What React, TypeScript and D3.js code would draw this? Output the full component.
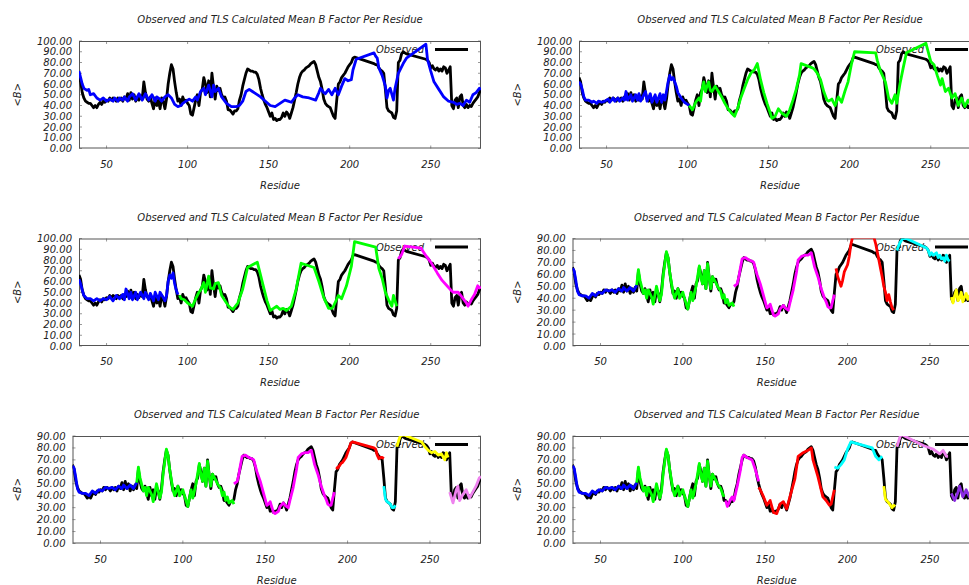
import React, { useEffect, useRef } from "react";
import * as d3 from "d3";

const W = 969;
const H = 585;
const TITLE = "Observed and TLS Calculated Mean B Factor Per Residue";
const xTicks = [50, 100, 150, 200, 250];
const residueRange: [number, number] = [33, 281];

// observed mean B per residue, [residue, B]; gaps 204-214 and 236-246 are unmodelled
const observed: [number, number][] = [
  [33, 66], [34, 62], [35, 52], [36, 47], [37, 44], [38, 43], [39, 42], [40, 42], [41, 40], [42, 38],
  [43, 40], [44, 38], [45, 41], [46, 43], [47, 41], [48, 44], [49, 43], [50, 45], [51, 44], [52, 47],
  [53, 45], [54, 47], [55, 46], [56, 44], [57, 47], [58, 45], [59, 47], [60, 44], [61, 48], [62, 46],
  [63, 51], [64, 45], [65, 52], [66, 46], [67, 50], [68, 44], [69, 48], [70, 45], [71, 49], [72, 46],
  [73, 62], [74, 52], [75, 46], [76, 44], [77, 48], [78, 42], [79, 37], [80, 47], [81, 40], [82, 45],
  [83, 37], [84, 47], [85, 44], [86, 37], [87, 46], [88, 60], [89, 70], [90, 78], [91, 74], [92, 62],
  [93, 52], [94, 44], [95, 46], [96, 40], [97, 48], [98, 44], [99, 45], [100, 42], [101, 40], [102, 32],
  [103, 31], [104, 38], [105, 45], [106, 50], [107, 40], [108, 52], [109, 55], [110, 66], [111, 60], [112, 52],
  [113, 63], [114, 48], [115, 70], [116, 57], [117, 46], [118, 58], [119, 54], [120, 56], [121, 50], [122, 47],
  [123, 48], [124, 44], [125, 36], [126, 36], [127, 34], [128, 32], [129, 35], [130, 35], [131, 37], [132, 45],
  [133, 50], [134, 58], [135, 64], [136, 70], [137, 74], [138, 73], [139, 72], [140, 72], [141, 71], [142, 71],
  [143, 69], [144, 64], [145, 56], [146, 50], [147, 45], [148, 41], [149, 38], [150, 34], [151, 30], [152, 33],
  [153, 27], [154, 28], [155, 26], [156, 27], [157, 27], [158, 29], [159, 33], [160, 30], [161, 34], [162, 32],
  [163, 28], [164, 33], [165, 38], [166, 45], [167, 52], [168, 60], [169, 66], [170, 70], [171, 72], [172, 73],
  [173, 75], [174, 76], [175, 77], [176, 79], [177, 80], [178, 81], [179, 78], [180, 72], [181, 66], [182, 62],
  [183, 55], [184, 46], [185, 42], [186, 40], [187, 39], [188, 38], [189, 34], [190, 30], [191, 28], [192, 45],
  [193, 60], [194, 62], [195, 66], [196, 68], [197, 70], [198, 73], [199, 76], [200, 78], [201, 80], [202, 84],
  [203, 85], [215, 79], [216, 78], [217, 78], [218, 75], [219, 73], [220, 72], [221, 70], [222, 55], [223, 38],
  [224, 35], [225, 34], [226, 33], [227, 29], [228, 28], [229, 35], [230, 80], [231, 82], [232, 88], [233, 90],
  [234, 89], [235, 88], [247, 83], [248, 82], [249, 80], [250, 75], [251, 77], [252, 74], [253, 73], [254, 75],
  [255, 72], [256, 74], [257, 72], [258, 76], [259, 75], [260, 70], [261, 73], [262, 76], [263, 40], [264, 37],
  [265, 45], [266, 47], [267, 38], [268, 48], [269, 50], [270, 40], [271, 38], [272, 41], [273, 38], [274, 40],
  [275, 39], [276, 42], [277, 44], [278, 46], [279, 48], [280, 52], [281, 55],
];

// panel 1: one TLS group
const fit1Blue: [number, number][] = [
  [33, 72], [34, 66], [35, 60], [36, 56], [38, 54], [39, 55], [40, 50], [42, 51], [44, 47], [46, 45],
  [48, 47], [50, 44], [52, 46], [54, 44], [55, 47], [57, 44], [58, 47], [60, 45], [61, 48], [63, 44],
  [64, 48], [66, 51], [68, 45], [70, 51], [72, 45], [74, 51], [76, 45], [78, 50], [80, 44], [81, 48],
  [83, 46], [84, 44], [86, 48], [88, 50], [90, 47], [92, 41], [94, 39], [96, 40], [97, 42], [99, 44],
  [101, 46], [103, 44], [105, 48], [106, 45], [108, 53], [110, 56], [111, 50], [113, 59], [115, 48], [116, 59],
  [117, 53], [119, 56], [121, 48], [124, 42], [127, 39], [130, 39], [132, 40], [134, 44], [136, 53], [138, 55],
  [140, 53], [142, 51], [145, 48], [148, 44], [151, 40], [154, 39], [157, 42], [160, 45], [162, 44], [164, 43],
  [166, 47], [168, 50], [171, 48], [175, 47], [179, 45], [181, 52], [182, 56], [184, 52], [185, 51], [187, 55],
  [189, 50], [191, 56], [193, 50], [195, 58], [197, 65], [199, 63], [201, 64], [202, 73], [204, 83], [215, 89],
  [216, 86], [217, 84], [218, 75], [220, 68], [222, 58], [223, 47], [224, 54], [225, 56], [227, 45], [228, 56],
  [230, 70], [231, 73], [233, 79], [235, 84], [247, 97], [248, 83], [250, 72], [252, 62], [255, 55], [258, 48],
  [261, 44], [264, 43], [266, 41], [268, 42], [270, 40], [272, 45], [274, 43], [276, 50], [278, 52], [280, 56],
  [281, 55],
];

// panel 2: two groups
const fit2Blue: [number, number][] = [
  [33, 62], [34, 60], [35, 55], [36, 48], [37, 45], [39, 45], [41, 43], [42, 44], [44, 42], [45, 44],
  [47, 43], [49, 44], [51, 46], [52, 43], [54, 47], [55, 44], [57, 47], [58, 44], [60, 47], [61, 45],
  [62, 53], [63, 45], [65, 50], [66, 44], [68, 50], [69, 45], [70, 51], [71, 44], [73, 50], [74, 53],
  [75, 44], [77, 51], [78, 43], [80, 50], [81, 43], [83, 51], [84, 43], [85, 50], [86, 45], [88, 62],
  [89, 68], [90, 64], [91, 66], [92, 62], [93, 58], [94, 52], [96, 47], [98, 43], [100, 41], [101, 40],
];
const fit2Green: [number, number][] = [
  [101, 40], [102, 38], [103, 36], [105, 43], [107, 47], [108, 44], [109, 56], [110, 62], [111, 53], [112, 58],
  [113, 62], [114, 54], [115, 53], [117, 58], [119, 53], [121, 48], [123, 42], [125, 37], [127, 33], [129, 30],
  [131, 38], [133, 48], [135, 56], [137, 64], [139, 70], [141, 73], [143, 79], [145, 64], [147, 52], [149, 42],
  [151, 33], [152, 28], [154, 30], [156, 37], [158, 33], [161, 30], [163, 36], [165, 45], [167, 55], [169, 68],
  [170, 79], [177, 75], [178, 74], [180, 70], [182, 64], [184, 53], [186, 45], [187, 44], [189, 46], [191, 40],
  [193, 48], [195, 43], [197, 53], [199, 62], [201, 78], [203, 90], [216, 89], [217, 82], [219, 72], [222, 62],
  [224, 47], [226, 42], [228, 50], [229, 42], [231, 60], [233, 75], [235, 89], [247, 98], [250, 81], [252, 78],
  [254, 68], [256, 59], [257, 65], [259, 53], [261, 56], [263, 47], [265, 51], [267, 40], [269, 47], [271, 39],
  [273, 45], [275, 40], [277, 45], [279, 39], [281, 42],
];

// panel 3: three groups
const fit3Blue: [number, number][] = [
  [33, 62], [34, 58], [35, 52], [36, 47], [38, 44], [40, 44], [42, 42], [44, 44], [46, 42], [48, 44],
  [50, 43], [52, 46], [54, 42], [56, 47], [58, 44], [60, 48], [61, 43], [62, 53], [64, 44], [65, 50],
  [66, 43], [68, 50], [69, 43], [71, 50], [73, 44], [74, 50], [76, 43], [77, 49], [79, 42], [80, 50],
  [82, 43], [83, 50], [85, 45], [86, 42], [87, 47], [88, 60], [89, 66], [90, 63], [91, 68], [92, 58],
  [93, 52], [94, 48],
];
const fit3Green: [number, number][] = [
  [95, 47], [96, 44], [98, 43], [100, 40], [102, 38], [103, 37], [105, 44], [107, 50], [108, 52], [110, 59],
  [111, 50], [113, 65], [114, 54], [116, 53], [117, 58], [119, 59], [121, 47], [124, 40], [126, 36], [128, 34],
  [131, 40], [134, 53], [137, 73], [143, 78], [146, 60], [149, 42], [151, 33], [153, 35], [155, 37], [157, 34],
  [159, 35], [161, 33], [164, 37], [167, 53], [170, 77], [178, 73], [181, 60], [184, 45], [187, 35], [189, 35],
  [190, 37], [193, 47], [195, 44], [198, 56], [201, 74], [203, 97], [216, 92], [218, 72], [220, 63], [222, 50],
  [224, 43], [226, 37], [227, 47], [229, 37],
];
const fit3Magenta: [number, number][] = [
  [230, 81], [232, 85], [234, 93], [244, 91], [247, 84], [250, 78], [254, 68], [257, 61], [260, 56], [263, 51],
  [264, 50], [267, 50], [270, 44], [272, 40], [273, 37], [275, 43], [277, 48], [279, 56], [280, 54], [281, 55],
];

// panels 4-6 share the first groups
const blueA: [number, number][] = [
  [33, 65], [34, 63], [35, 55], [36, 46], [37, 43], [39, 42], [41, 42], [43, 40], [45, 44], [47, 42],
  [49, 45], [51, 44], [53, 47], [55, 46], [57, 47], [59, 45], [61, 48], [63, 46], [64, 49], [66, 46],
  [68, 49], [70, 46], [72, 51],
];
const greenA: [number, number][] = [
  [72, 51], [73, 64], [74, 55], [76, 44], [77, 47], [78, 40], [79, 47], [81, 41], [82, 35], [84, 50],
  [86, 38], [87, 43], [88, 58], [90, 79], [91, 74], [92, 62], [94, 45], [95, 40], [97, 48], [98, 40],
  [100, 45], [101, 40], [103, 31], [105, 45], [106, 38], [108, 50], [110, 67], [111, 57], [112, 52], [113, 63],
  [114, 48], [115, 69], [116, 56], [117, 48], [118, 58], [120, 53], [121, 50], [123, 46], [124, 40], [125, 43],
  [126, 36], [127, 39], [128, 34], [130, 36], [131, 33],
];
const magentaA: [number, number][] = [
  [131, 50], [132, 51], [133, 52], [134, 58], [135, 66], [136, 73], [138, 74], [140, 72], [142, 71], [143, 70],
  [145, 60], [147, 52], [149, 42], [150, 37], [151, 32], [152, 33], [153, 35], [155, 26], [156, 25], [158, 27],
  [159, 31], [161, 34], [162, 32], [164, 30], [165, 36], [167, 47], [169, 62], [170, 72], [172, 75], [174, 76],
  [176, 76], [178, 78], [179, 72], [180, 66], [182, 58], [184, 48], [186, 40], [187, 37], [188, 33], [189, 32],
  [190, 32], [191, 38], [192, 43],
];

const fit4Red: [number, number][] = [
  [193, 65], [194, 58], [196, 50], [197, 55], [198, 62], [200, 68], [201, 75], [202, 85], [203, 91], [216, 91],
  [217, 86], [219, 72], [220, 65], [221, 58], [222, 50], [223, 45], [224, 38], [225, 43], [226, 37], [227, 32],
  [228, 30],
];
const fit4Cyan: [number, number][] = [
  [230, 80], [231, 84], [232, 87], [233, 89], [234, 91], [248, 82], [249, 80], [250, 76], [251, 78], [252, 76],
  [254, 78], [255, 74], [256, 76], [257, 73], [258, 74], [259, 71], [260, 76], [261, 72], [262, 71],
];
const fit4Yellow: [number, number][] = [
  [263, 41], [264, 36], [265, 42], [266, 47], [267, 38], [268, 40], [269, 45], [270, 37], [271, 41], [272, 44],
  [273, 39], [274, 42], [275, 40], [276, 43], [277, 41], [278, 44], [279, 40], [281, 42],
];

const fit5Red: [number, number][] = [
  [193, 64], [194, 63], [195, 65], [196, 67], [197, 68], [198, 70], [199, 72], [200, 76], [201, 80], [202, 84],
  [203, 85], [216, 80], [217, 79], [218, 74], [219, 71], [220, 72], [221, 72], [222, 71],
];
const fit5Cyan: [number, number][] = [
  [222, 48], [223, 37], [224, 35], [225, 34], [226, 33], [227, 30], [228, 30], [229, 32],
];
const fit5Yellow: [number, number][] = [
  [230, 81], [231, 86], [232, 90], [234, 91], [245, 85], [247, 81], [249, 78], [251, 76], [253, 77], [255, 74],
  [257, 75], [259, 70], [260, 76], [261, 72],
];
const fit5Violet: [number, number][] = [
  [262, 43], [264, 34], [266, 45], [267, 48], [268, 36], [270, 41], [272, 45], [274, 38], [276, 43], [278, 48],
  [280, 55], [281, 56],
];

const fit6Green: [number, number][] = [
  [72, 51], [73, 64], [74, 55], [76, 44], [77, 47], [78, 40], [79, 47], [81, 41], [82, 35], [84, 50],
  [86, 38], [87, 43], [88, 58], [90, 79], [91, 74], [92, 62], [94, 45], [95, 40], [97, 48], [98, 40],
  [100, 45], [101, 40], [103, 31], [105, 45], [106, 38], [108, 50], [110, 67], [111, 57], [112, 52], [113, 63],
  [114, 48], [115, 69], [116, 56], [117, 48], [118, 58], [120, 53], [121, 50], [123, 46], [124, 42], [125, 39],
];
const fit6Magenta: [number, number][] = [
  [126, 36], [127, 31], [129, 37], [130, 39], [131, 36], [133, 48], [135, 62], [136, 72], [137, 74], [139, 72],
  [142, 70], [144, 62], [146, 52],
];
const fit6Red: [number, number][] = [
  [146, 47], [147, 45], [149, 39], [151, 32], [153, 36], [155, 26], [157, 25], [159, 33], [161, 35], [163, 29],
  [165, 39], [168, 54], [170, 73], [173, 76], [176, 78], [178, 80], [179, 70], [182, 56], [185, 39], [187, 36],
  [189, 32], [190, 33], [192, 45],
];
const fit6Cyan: [number, number][] = [
  [192, 64], [194, 63], [196, 66], [198, 70], [200, 79], [202, 85], [215, 80], [217, 73], [219, 70], [221, 73],
];
const fit6Yellow: [number, number][] = [
  [222, 48], [223, 37], [225, 34], [227, 30], [228, 32], [229, 31],
];
const fit6Violet: [number, number][] = [
  [230, 81], [232, 90], [233, 91], [246, 82], [248, 81], [250, 80], [252, 79], [254, 77], [256, 75], [258, 78],
  [260, 73], [261, 73],
];
const fit6Purple: [number, number][] = [
  [263, 42], [265, 36], [267, 43], [268, 48], [270, 39], [272, 45], [274, 39], [276, 43], [278, 40], [281, 42],
];

const BLUE = "#0000ff", GREEN = "#00ff00", MAGENTA = "#ff00ff", RED = "#ff0000";
const CYAN = "#00ffff", YELLOW = "#ffff00", VIOLET = "#ee82ee", PURPLE = "#8a2be2";

type Fit = { color: string; pts: [number, number][] };
type Panel = { row: number; col: number; yMax: number; fits: Fit[] };

const panels: Panel[] = [
  { row: 0, col: 0, yMax: 100, fits: [{ color: BLUE, pts: fit1Blue }] },
  { row: 0, col: 1, yMax: 100, fits: [{ color: BLUE, pts: fit2Blue }, { color: GREEN, pts: fit2Green }] },
  {
    row: 1, col: 0, yMax: 100,
    fits: [{ color: BLUE, pts: fit3Blue }, { color: GREEN, pts: fit3Green }, { color: MAGENTA, pts: fit3Magenta }],
  },
  {
    row: 1, col: 1, yMax: 90,
    fits: [
      { color: BLUE, pts: blueA }, { color: GREEN, pts: greenA }, { color: MAGENTA, pts: magentaA },
      { color: RED, pts: fit4Red }, { color: CYAN, pts: fit4Cyan }, { color: YELLOW, pts: fit4Yellow },
    ],
  },
  {
    row: 2, col: 0, yMax: 90,
    fits: [
      { color: BLUE, pts: blueA }, { color: GREEN, pts: greenA }, { color: MAGENTA, pts: magentaA },
      { color: RED, pts: fit5Red }, { color: CYAN, pts: fit5Cyan }, { color: YELLOW, pts: fit5Yellow },
      { color: VIOLET, pts: fit5Violet },
    ],
  },
  {
    row: 2, col: 1, yMax: 90,
    fits: [
      { color: BLUE, pts: blueA }, { color: GREEN, pts: fit6Green }, { color: MAGENTA, pts: fit6Magenta },
      { color: RED, pts: fit6Red }, { color: CYAN, pts: fit6Cyan }, { color: YELLOW, pts: fit6Yellow },
      { color: VIOLET, pts: fit6Violet }, { color: PURPLE, pts: fit6Purple },
    ],
  },
];

const FONT = "'DejaVu Sans', Verdana, sans-serif";
const TEXT = "#222";

function drawPanel(svg: d3.Selection<SVGSVGElement, unknown, null, undefined>, p: Panel, i: number) {
  const ox = p.col * 500;
  const oy = p.row * 197.5;
  const left = ox + (p.yMax === 100 ? 79 : 72.5);
  const right = ox + 481;
  const top = oy + 41;
  const bottom = oy + 148.5;

  const x = d3.scaleLinear().domain(residueRange).range([left, right]);
  const y = d3.scaleLinear().domain([0, p.yMax]).range([bottom, top]);
  const yTicks = d3.range(0, p.yMax + 1, 10);

  const g = svg.append("g").attr("font-family", FONT).attr("font-style", "italic").attr("font-size", 10);

  g.append("clipPath").attr("id", `clip${i}`)
    .append("rect")
    .attr("x", left).attr("y", top).attr("width", right - left).attr("height", bottom - top);

  // tick marks, mirrored on all four sides
  const tk = g.append("g").attr("stroke", "#999").attr("stroke-width", 1);
  xTicks.forEach(t => {
    tk.append("line").attr("x1", x(t)).attr("x2", x(t)).attr("y1", bottom).attr("y2", bottom - 3);
    tk.append("line").attr("x1", x(t)).attr("x2", x(t)).attr("y1", top).attr("y2", top + 3);
  });
  yTicks.forEach(t => {
    tk.append("line").attr("x1", left).attr("x2", left + 3).attr("y1", y(t)).attr("y2", y(t));
    tk.append("line").attr("x1", right).attr("x2", right - 3).attr("y1", y(t)).attr("y2", y(t));
  });

  g.append("rect")
    .attr("x", left + 0.5).attr("y", top + 0.5)
    .attr("width", right - left - 1).attr("height", bottom - top - 1)
    .attr("fill", "none").attr("stroke", "#555").attr("stroke-width", 1);

  g.selectAll("text.ytick").data(yTicks).enter().append("text")
    .attr("class", "ytick")
    .attr("x", left - 7).attr("y", d => y(d) + 3.5)
    .attr("text-anchor", "end").attr("fill", TEXT)
    .text(d => d3.format(".2f")(d));

  g.selectAll("text.xtick").data(xTicks).enter().append("text")
    .attr("class", "xtick")
    .attr("x", d => x(d)).attr("y", bottom + 19)
    .attr("text-anchor", "middle").attr("fill", TEXT)
    .text(d => d);

  const cx = (left + right) / 2;
  g.append("text").attr("x", cx).attr("y", top - 18).attr("text-anchor", "middle").attr("fill", TEXT).text(TITLE);
  g.append("text").attr("x", cx).attr("y", bottom + 40).attr("text-anchor", "middle").attr("fill", TEXT).text("Residue");
  g.append("text")
    .attr("transform", `translate(${ox + 21},${(top + bottom) / 2}) rotate(-90)`)
    .attr("text-anchor", "middle").attr("fill", TEXT)
    .text("<B>");

  // key
  g.append("text").attr("x", right - 57).attr("y", top + 12).attr("text-anchor", "end").attr("fill", TEXT).text("Observed");
  g.append("line")
    .attr("x1", right - 46).attr("x2", right - 13).attr("y1", top + 8.5).attr("y2", top + 8.5)
    .attr("stroke", "#000").attr("stroke-width", 3);

  const line = d3.line<[number, number]>().x(d => x(d[0])).y(d => y(d[1]));
  const plot = g.append("g").attr("clip-path", `url(#clip${i})`)
    .attr("fill", "none").attr("stroke-width", 2.8).attr("stroke-linejoin", "round");

  plot.append("path").attr("d", line(observed)).attr("stroke", "#000");
  p.fits.forEach(f => {
    plot.append("path").attr("d", line(f.pts)).attr("stroke", f.color);
  });
}

export default function App() {
  const ref = useRef<SVGSVGElement>(null);

  useEffect(() => {
    const svg = d3.select(ref.current!);
    svg.selectAll("*").remove();
    panels.forEach((p, i) => drawPanel(svg, p, i));
  }, []);

  return (
    <svg
      ref={ref}
      width={W}
      height={H}
      style={{ position: "absolute", left: 0, top: 0, background: "#fff" }}
    />
  );
}
